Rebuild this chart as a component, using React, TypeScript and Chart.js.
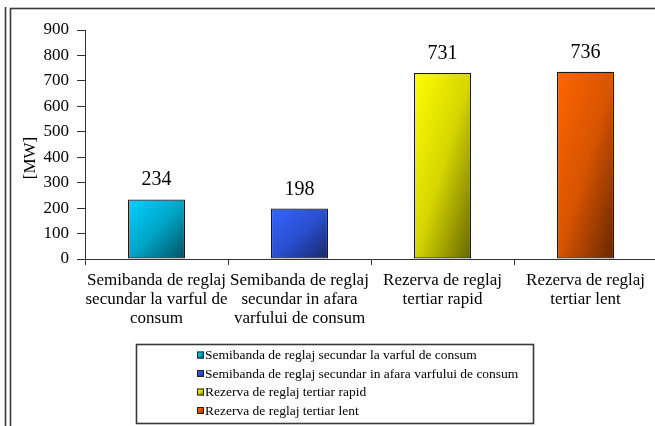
import React, { useEffect, useRef } from 'react';
import { Chart, registerables } from 'chart.js';

Chart.register(...registerables);

const categories: string[][] = [
  ['Semibanda de reglaj', 'secundar la varful de', 'consum'],
  ['Semibanda de reglaj', 'secundar in afara', 'varfului de consum'],
  ['Rezerva de reglaj', 'tertiar rapid'],
  ['Rezerva de reglaj', 'tertiar lent'],
];
const legendLabels: string[] = [
  'Semibanda de reglaj secundar la varful de consum',
  'Semibanda de reglaj secundar in afara varfului de consum',
  'Rezerva de reglaj tertiar rapid',
  'Rezerva de reglaj tertiar lent',
];
const values: number[] = [234, 198, 731, 736];
const yMin = 0;
const yMax = 900;
const yStep = 100;
const yTitle = '[MW]';
const lightColors: string[] = ['#00d2ff', '#3366ff', '#ffff00', '#ff6600'];
const midColors: string[] = ['#00a6c8', '#2a4fd0', '#d6d600', '#d85400'];
const darkColors: string[] = ['#004f60', '#172766', '#666600', '#662600'];

const W = 720;
const H = 426;
const FONT = '"Liberation Serif", "Times New Roman", serif';

function makeGradient(c: CanvasRenderingContext2D, i: number, x0: number, y0: number, w: number, h: number) {
  const d = h * h + w * w || 1;
  const t = (2 * w * h) / d;
  const g = c.createLinearGradient(x0, y0, x0 + t * h, y0 + t * w);
  g.addColorStop(0, lightColors[i]);
  g.addColorStop(0.5, midColors[i]);
  g.addColorStop(1, darkColors[i]);
  return g;
}

function barBg(ctx: any) {
  const chart = ctx.chart;
  const i = ctx.dataIndex;
  if (i == null) return lightColors[0];
  const xs = chart.scales?.x;
  const ys = chart.scales?.y;
  if (!xs || !ys || !xs.width) return lightColors[i];
  const cw = xs.width / categories.length;
  const bw = cw * 0.4;
  const cx = xs.getPixelForValue(i);
  const top = ys.getPixelForValue(values[i]);
  const bottom = ys.getPixelForValue(0);
  return makeGradient(chart.ctx, i, cx - bw / 2, top, bw, bottom - top);
}

const framePlugin = {
  id: 'framePlugin',
  beforeDraw(chart: any) {
    const c = chart.ctx as CanvasRenderingContext2D;
    c.save();
    c.fillStyle = '#ffffff';
    c.fillRect(0, 0, chart.width, chart.height);
    c.strokeStyle = '#3a3a3a';
    c.lineWidth = 1.6;
    c.beginPath();
    c.moveTo(5.5, 7);
    c.lineTo(5.5, H + 5);
    c.stroke();
    c.strokeRect(10.5, 8.5, W + 20, H + 20);
    c.restore();
  },
  afterDraw(chart: any) {
    const c = chart.ctx as CanvasRenderingContext2D;
    c.save();
    c.fillStyle = '#000';
    c.font = `17px ${FONT}`;
    c.textAlign = 'center';
    c.textBaseline = 'middle';
    c.translate(31, 158);
    c.rotate(-Math.PI / 2);
    c.fillText(yTitle, 0, 0);
    c.restore();

    c.save();
    c.strokeStyle = '#3a3a3a';
    c.lineWidth = 1.6;
    c.strokeRect(136.5, 344.5, 397, 79);
    c.font = `13.5px ${FONT}`;
    c.textBaseline = 'middle';
    c.textAlign = 'left';
    legendLabels.forEach((lab, i) => {
      const y = 355 + i * 18.5;
      c.fillStyle = makeGradient(c, i, 197, y - 3.5, 7, 7);
      c.fillRect(197, y - 3.5, 7, 7);
      c.strokeStyle = '#222';
      c.lineWidth = 1;
      c.strokeRect(197.5, y - 3, 6, 6);
      c.fillStyle = '#000';
      c.fillText(lab, 205, y + 0.5);
    });
    c.restore();
  },
  afterDatasetsDraw(chart: any) {
    const c = chart.ctx as CanvasRenderingContext2D;
    const meta = chart.getDatasetMeta(0);
    c.save();
    c.fillStyle = '#000';
    c.font = `20px ${FONT}`;
    c.textAlign = 'center';
    c.textBaseline = 'alphabetic';
    meta.data.forEach((el: any, i: number) => {
      c.fillText(String(values[i]), el.x, el.y - 14);
    });
    c.restore();
  },
};

export default function App() {
  const ref = useRef<HTMLCanvasElement | null>(null);
  useEffect(() => {
    document.documentElement.style.overflow = 'hidden';
    document.body.style.margin = '0';
    document.body.style.overflow = 'hidden';
    const canvas = ref.current;
    if (!canvas) return;
    const chart = new Chart(canvas, {
      type: 'bar',
      data: {
        labels: categories,
        datasets: [
          {
            data: values,
            backgroundColor: barBg,
            borderColor: '#1a1a1a',
            borderWidth: 1.2,
            borderSkipped: false,
            categoryPercentage: 1,
            barPercentage: 0.4,
          },
        ],
      },
      options: {
        animation: false,
        responsive: false,
        devicePixelRatio: 1,
        layout: { padding: { left: 0, right: W - 657, top: 30, bottom: H - 259 - 70 } },
        plugins: { legend: { display: false }, tooltip: { enabled: false } },
        scales: {
          x: {
            grid: { display: true, drawOnChartArea: false, drawTicks: true, tickLength: 6, color: '#333', offset: true },
            border: { color: '#333', width: 1 },
            ticks: {
              font: { family: FONT, size: 17, lineHeight: '19px' },
              color: '#000',
              padding: 6,
              maxRotation: 0,
              minRotation: 0,
              autoSkip: false,
            },
            afterFit: (s: any) => {
              s.height = 70;
            },
          },
          y: {
            min: yMin,
            max: yMax,
            ticks: { stepSize: yStep, font: { family: FONT, size: 17 }, color: '#000', padding: 8 },
            grid: { drawOnChartArea: false, tickLength: 8, color: '#333' },
            border: { color: '#333', width: 1 },
            afterFit: (s: any) => {
              s.width = 85;
            },
          },
        },
      },
      plugins: [framePlugin],
    } as any);
    return () => chart.destroy();
  }, []);
  return (
    <div style={{ width: W, height: H, position: 'relative' }}>
      <canvas ref={ref} width={W} height={H} style={{ display: 'block', width: W, height: H }} />
    </div>
  );
}
